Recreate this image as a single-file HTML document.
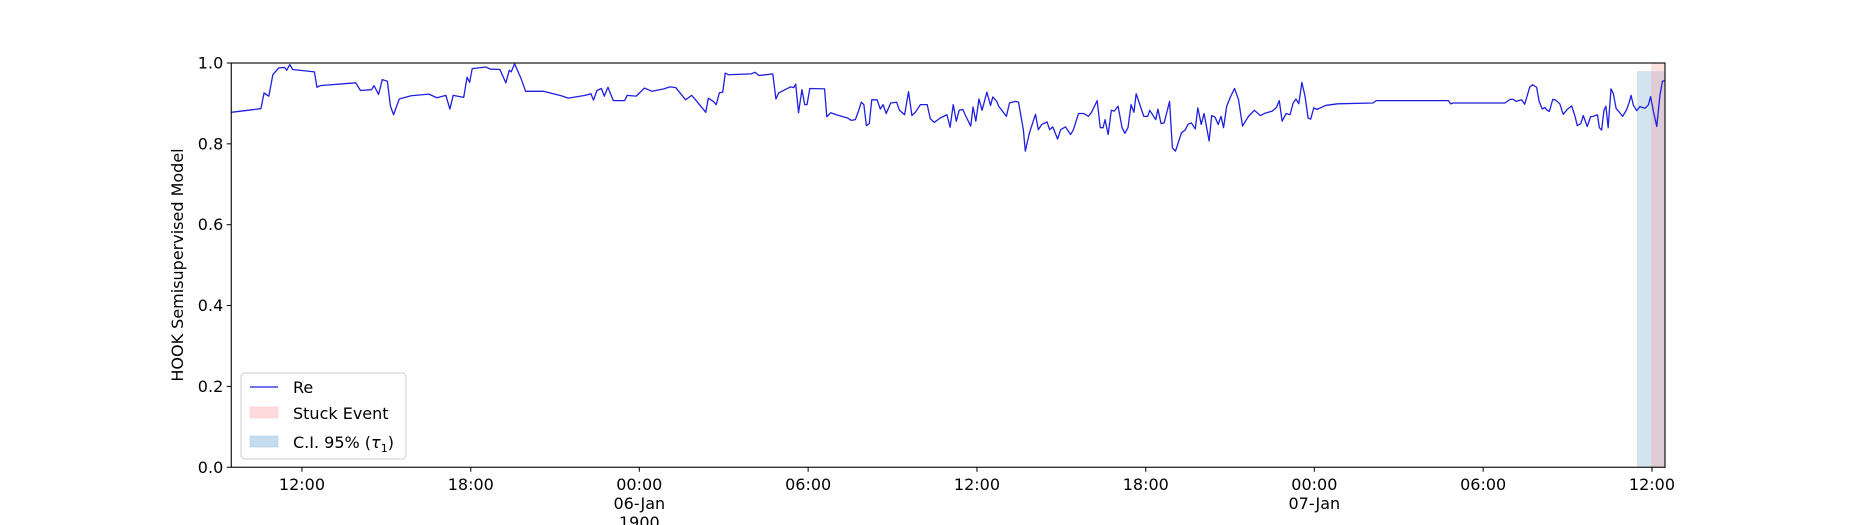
<!DOCTYPE html>
<html><head><meta charset="utf-8"><style>
html,body{margin:0;padding:0;background:#fff;}
svg{display:block;font-family:"DejaVu Sans","Liberation Sans",sans-serif;}
</style></head><body>
<svg id="chart" width="1850" height="525" viewBox="0 0 1850 525" xmlns="http://www.w3.org/2000/svg">
<g id="bands"></g>
<g id="series"></g>
<rect x="231.25" y="63" width="1433.75" height="404.25" fill="none" stroke="#000" stroke-width="1.1"/>
<g id="yticks"></g>
<g id="xticks"></g>
<text transform="translate(183,265) rotate(-90)" text-anchor="middle" font-size="16">HOOK Semisupervised Model</text>
<g>
<rect x="241" y="373" width="165" height="86" rx="4" fill="#fff" fill-opacity="0.8" stroke="#cccccc"/>
<line x1="250" y1="387" x2="278" y2="387" stroke="#1f1fe0" stroke-width="1.3"/>
<text x="293" y="393" font-size="16">Re</text>
<rect x="250" y="407" width="28" height="11" fill="#ffdada" stroke="#ffc8c8" stroke-width="0.6"/>
<text x="293" y="419" font-size="16">Stuck Event</text>
<rect x="250" y="436" width="28" height="11" fill="#c6dcec" stroke="#b0cce0" stroke-width="0.6"/>
<text x="293" y="448" font-size="16">C.I. 95% (<tspan font-style="italic">τ</tspan><tspan font-size="11" dy="4">1</tspan><tspan dy="-4">)</tspan></text>
</g>
</svg>
<script>
const times=[0,1.05,1.16,1.33,1.47,1.68,1.89,1.96,2.07,2.17,2.94,3.03,3.14,4.40,4.57,4.96,5.05,5.21,5.34,5.52,5.63,5.74,5.94,6.36,6.99,7.27,7.59,7.73,7.85,8.22,8.34,8.43,8.52,9.01,9.15,9.50,9.71,9.83,9.90,10.02,10.24,10.41,11.04,11.67,11.92,12.51,12.72,12.81,12.93,13.09,13.19,13.32,13.51,13.91,14.0,14.32,14.61,14.88,15.30,15.51,15.72,16.07,16.28,16.42,16.78,16.87,17.05,17.15,17.26,17.38,17.47,17.58,18.38,18.52,18.66,19.15,19.26,19.36,19.78,19.89,19.96,20.06,20.18,20.28,20.36,20.46,20.98,21.06,21.2,21.4,21.79,21.93,22.07,22.18,22.28,22.37,22.46,22.56,22.65,22.84,22.95,23.05,23.16,23.32,23.53,23.63,23.81,23.95,24.07,24.19,24.37,24.61,24.72,24.86,25.07,25.31,25.42,25.53,25.64,25.74,25.87,25.98,26.15,26.23,26.33,26.44,26.55,26.72,26.85,26.93,27.07,27.14,27.41,27.52,27.73,27.84,28.01,28.08,28.22,28.36,28.44,28.54,28.66,28.85,28.94,29.05,29.22,29.33,29.50,29.68,29.78,29.96,30.15,30.31,30.42,30.62,30.73,30.83,30.90,31.01,31.12,31.22,31.36,31.5,31.6,31.71,31.82,31.92,32.0,32.13,32.27,32.41,32.48,32.69,32.77,32.88,32.99,33.18,33.28,33.39,33.60,33.74,33.83,33.95,34.09,34.18,34.30,34.40,34.58,34.67,34.79,34.90,35.0,35.09,35.2,35.32,35.48,35.62,35.76,35.97,36.18,36.39,36.53,36.81,36.95,37.06,37.16,37.30,37.44,37.55,37.65,37.75,37.86,37.97,38.08,38.17,38.28,38.39,38.70,39.12,40.37,40.49,43.04,43.12,43.21,45.04,45.22,45.34,45.43,45.63,45.74,45.92,46.02,46.16,46.25,46.36,46.45,46.52,46.61,46.73,46.84,46.98,47.10,47.24,47.40,47.51,47.60,47.72,47.81,47.95,48.07,48.16,48.31,48.38,48.46,48.54,48.61,48.69,48.79,48.87,48.97,49.11,49.20,49.34,49.44,49.50,49.58,49.70,49.81,49.99,50.11,50.19,50.29,50.41,50.52,50.61,50.70];
const values=[0.878,0.887,0.926,0.918,0.971,0.988,0.989,0.982,0.996,0.984,0.978,0.94,0.944,0.951,0.932,0.934,0.944,0.922,0.959,0.955,0.893,0.872,0.911,0.919,0.923,0.914,0.92,0.886,0.92,0.915,0.965,0.952,0.986,0.99,0.985,0.984,0.951,0.982,0.978,0.998,0.963,0.93,0.93,0.919,0.913,0.92,0.924,0.908,0.932,0.937,0.918,0.94,0.907,0.907,0.92,0.918,0.938,0.93,0.936,0.941,0.939,0.909,0.92,0.909,0.878,0.913,0.905,0.897,0.926,0.928,0.975,0.971,0.973,0.977,0.969,0.973,0.911,0.926,0.941,0.939,0.948,0.877,0.934,0.897,0.897,0.937,0.936,0.867,0.877,0.872,0.864,0.858,0.86,0.881,0.903,0.897,0.845,0.85,0.909,0.909,0.886,0.897,0.875,0.901,0.903,0.883,0.872,0.929,0.87,0.878,0.897,0.897,0.862,0.853,0.864,0.872,0.841,0.897,0.856,0.883,0.885,0.868,0.844,0.891,0.856,0.911,0.883,0.928,0.895,0.916,0.905,0.893,0.868,0.901,0.905,0.903,0.835,0.782,0.826,0.856,0.873,0.835,0.848,0.854,0.835,0.842,0.812,0.835,0.842,0.823,0.835,0.875,0.875,0.868,0.878,0.907,0.84,0.84,0.86,0.823,0.883,0.881,0.893,0.84,0.826,0.84,0.897,0.878,0.924,0.897,0.868,0.868,0.883,0.86,0.886,0.85,0.852,0.905,0.79,0.782,0.827,0.835,0.848,0.852,0.837,0.889,0.848,0.875,0.807,0.87,0.866,0.848,0.868,0.84,0.893,0.914,0.937,0.909,0.844,0.868,0.883,0.87,0.875,0.881,0.889,0.907,0.856,0.875,0.872,0.901,0.911,0.899,0.952,0.918,0.864,0.861,0.889,0.885,0.895,0.899,0.901,0.907,0.907,0.899,0.901,0.901,0.910,0.910,0.905,0.909,0.898,0.941,0.946,0.940,0.905,0.886,0.890,0.884,0.880,0.910,0.908,0.899,0.873,0.885,0.894,0.870,0.845,0.850,0.870,0.843,0.867,0.868,0.872,0.840,0.834,0.883,0.893,0.840,0.936,0.925,0.888,0.876,0.868,0.884,0.904,0.920,0.896,0.882,0.892,0.888,0.896,0.917,0.880,0.843,0.920,0.955,0.956];
const yTicks=[0,0.2,0.4,0.6,0.8,1.0];
const yTickLabels=["0.0","0.2","0.4","0.6","0.8","1.0"];
const xTickHours=[2.50,8.47,14.43,20.40,26.37,32.34,38.30,44.27,50.24];
const xTickLabels=["12:00","18:00","00:00","06:00","12:00","18:00","00:00","06:00","12:00"];
const xTickSub={2:["06-Jan","1900"],6:["07-Jan"]};
const ciBand=[49.71,50.70,0.98];
const stuckBand=[50.21,50.70,1.0];

const X0=231.25,X1=1665,Y0=467.25,Y1=63,T0=0,T1=50.70;
const xs=t=>X0+(t-T0)/(T1-T0)*(X1-X0);
const ys=v=>Y0-v*(Y0-Y1);
const NS="http://www.w3.org/2000/svg";
function mk(tag,attrs,parent){const e=document.createElementNS(NS,tag);for(const k in attrs)e.setAttribute(k,attrs[k]);parent.appendChild(e);return e;}

const bands=document.getElementById('bands');
const ci=mk('rect',{x:xs(ciBand[0]),y:ys(ciBand[2]),width:xs(ciBand[1])-xs(ciBand[0]),height:Y0-ys(ciBand[2]),fill:'#1f77b4','fill-opacity':0.2},bands);


const st=mk('rect',{x:xs(stuckBand[0]),y:ys(stuckBand[2]),width:xs(stuckBand[1])-xs(stuckBand[0]),height:Y0-ys(stuckBand[2]),fill:'#ff9999','fill-opacity':0.3},bands);



const series=document.getElementById('series');
const pts=times.map((t,i)=>xs(t).toFixed(2)+','+ys(values[i]).toFixed(2)).join(' ');
const pl=mk('polyline',{points:pts,fill:'none',stroke:'#1f1fe0','stroke-width':1.3,'stroke-linejoin':'round'},series);



const yg=document.getElementById('yticks');
yTicks.forEach((v,i)=>{
  const y=ys(v);
  const l=mk('line',{x1:X0-4.5,x2:X0,y1:y,y2:y,stroke:'#000','stroke-width':1},yg);
  
  
  const t=mk('text',{x:X0-8,y:y+5.5,'text-anchor':'end','font-size':16},yg);
  t.textContent=yTickLabels[i];
  
  
});
const xg=document.getElementById('xticks');
xTickHours.forEach((h,i)=>{
  const x=xs(h);
  const l=mk('line',{x1:x,x2:x,y1:Y0,y2:Y0+4.5,stroke:'#000','stroke-width':1},xg);
  
  
  const t=mk('text',{x:x,y:490,'text-anchor':'middle','font-size':16},xg);
  t.textContent=xTickLabels[i];
  
  
  (xTickSub[i]||[]).forEach((s,j)=>{
    const t2=mk('text',{x:x,y:509+j*19,'text-anchor':'middle','font-size':16},xg);
    t2.textContent=s;
    
    
  });
});
</script>
</body></html>
